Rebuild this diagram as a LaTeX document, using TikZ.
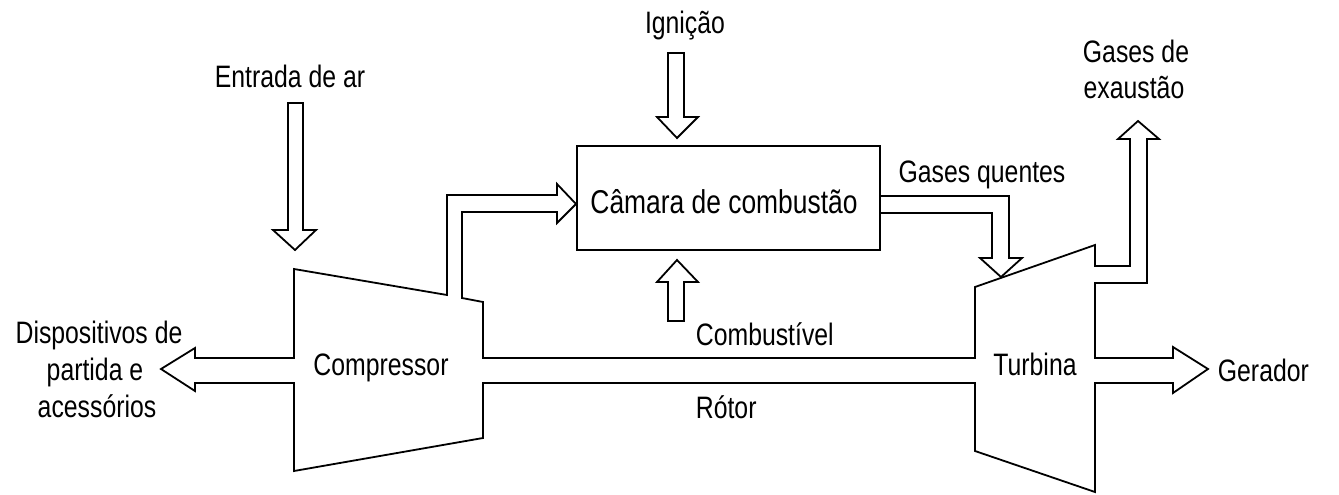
\documentclass[tikz,border=0pt]{standalone}
\usepackage{fontspec}
\setmainfont[FakeStretch=0.8]{Liberation Sans}
\begin{document}
\begin{tikzpicture}[x=1pt,y=-1pt, line width=1.8pt, line join=miter,
  lbl/.style={font=\fontsize{31}{37}\selectfont, inner sep=0pt, anchor=base},
  outline/.style={draw=black}]
\useasboundingbox (0,0) rectangle (1339,495);
\path[fill=white] (0,0) rectangle (1339,495);

% combustion chamber
\node[outline, rectangle, minimum width=303pt, minimum height=104pt, inner sep=0pt,
      line width=1.8pt] (camara) at (728.5,198) {};
\node[lbl, font=\fontsize{33}{39}\selectfont] (camtxt) at (724,213) {Câmara de combustão};

% compressor, rotor shaft, turbine, bleed and exhaust passages as one contour
\draw[outline] (195,348) -- (161,369) -- (195,391) -- (195,383) -- (294,383)
  -- (294,471) -- (483,438) -- (483,383) -- (975,383) -- (975,451)
  -- (1095,492) -- (1095,383) -- (1173,383) -- (1173,393) -- (1208,369)
  -- (1173,347) -- (1173,358) -- (1095,358) -- (1095,283) -- (1147,283)
  -- (1147,139) -- (1159,139) -- (1138,121) -- (1118,139) -- (1130,139)
  -- (1130,266) -- (1095,266) -- (1095,245) -- (975,287) -- (975,358)
  -- (483,358) -- (483,302) -- (462,298) -- (462,212) -- (557,212)
  -- (557,223) -- (576,204) -- (557,184) -- (557,195) -- (447,195)
  -- (447,295) -- (294,269) -- (294,358) -- (195,358) -- cycle;

% hot gases from the chamber to the turbine
\coordinate (hgA) at (camara.east |- 0,196);
\coordinate (hgB) at (camara.east |- 0,213);
\draw[outline] (hgA) -- (1009,196) -- (1009,258) -- (1022,258) -- (1001,277)
  -- (980,258) -- (992,258) -- (992,213) -- (hgB);

% ignition arrow
\draw[outline] (668,53) -- (684,53) -- (684,117) -- (698,117) -- (677,138)
  -- (657,117) -- (668,117) -- cycle;

% fuel arrow
\draw[outline] (668,321) -- (668,282) -- (657,282) -- (677,260) -- (698,282)
  -- (684,282) -- (684,321) -- cycle;

% air intake arrow
\draw[outline] (288,103) -- (303,103) -- (303,230) -- (316,230) -- (295,250)
  -- (273,230) -- (288,230) -- cycle;

% labels
\node[lbl] (ignicao) at (685,34) {Ignição};
\node[lbl] (entrada) at (290,88) {Entrada de ar};
\node[lbl] (quentes) at (982,182) {Gases quentes};
\node[lbl] (exaust1) at (1136,63) {Gases de};
\node[lbl] (exaust2) at (1134,99) {exaustão};
\node[lbl] (disp1) at (99,343) {Dispositivos de};
\node[lbl] (disp2) at (95,380) {partida e};
\node[lbl] (disp3) at (97,417) {acessórios};
\node[lbl, anchor=base west] (comb) at (695,345) {Combustível};
\node[lbl, anchor=base west] (rotor) at (695,418) {Rótor};
\node[lbl] (compressor) at (381,375) {Compressor};
\node[lbl] (turbina) at (1035,375) {Turbina};
\node[lbl, anchor=base west] (gerador) at (1217,381) {Gerador};
\end{tikzpicture}
\end{document}
